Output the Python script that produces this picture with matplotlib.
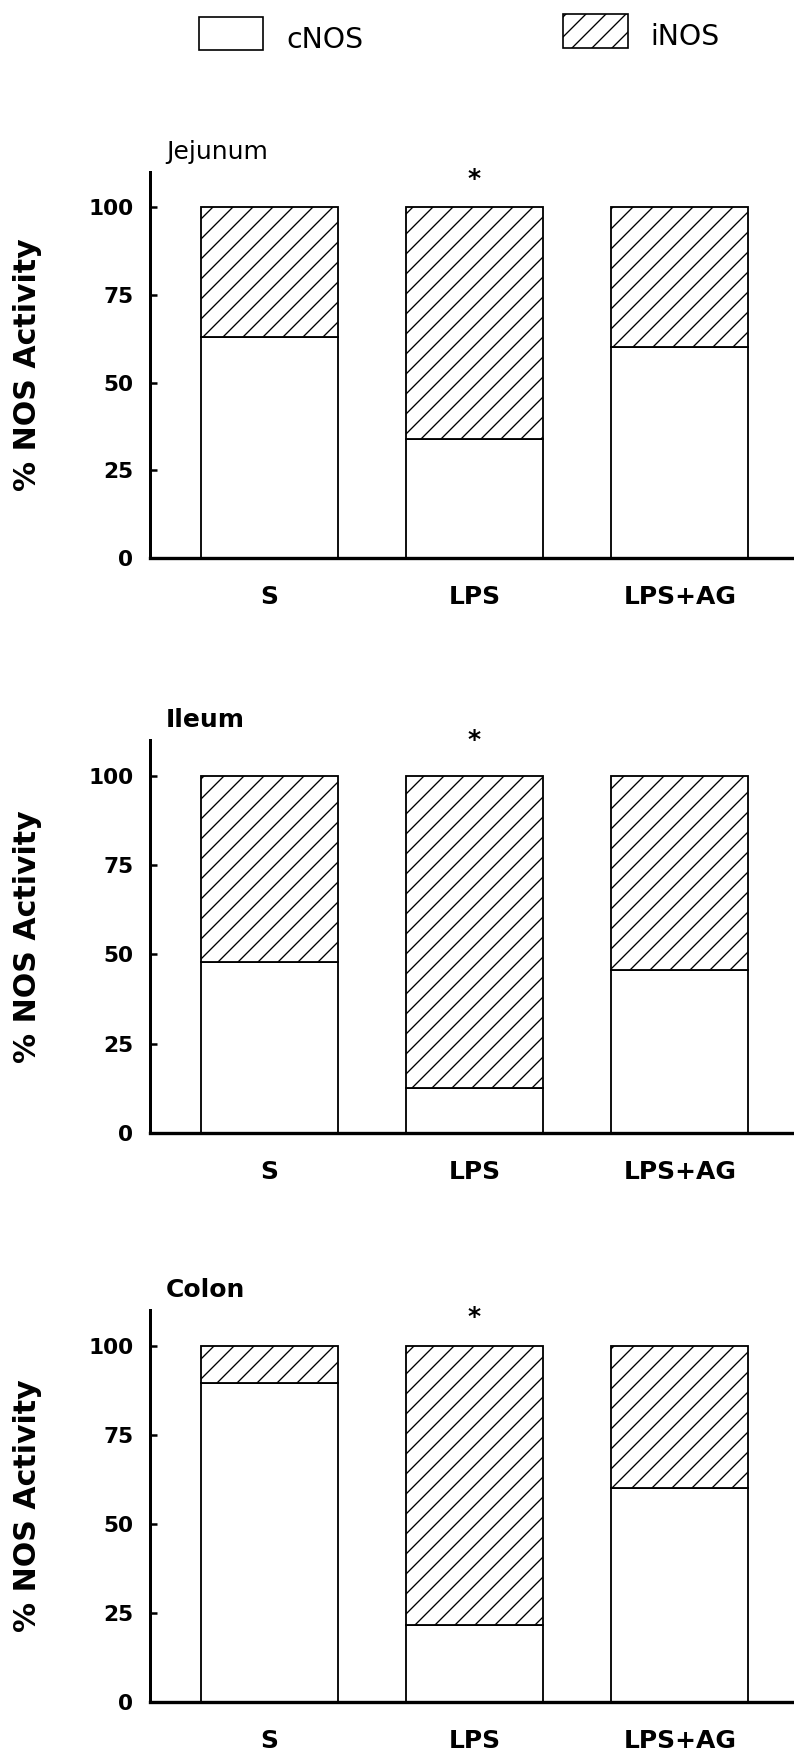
import numpy as np
import matplotlib.pyplot as plt
from matplotlib.patches import Rectangle

plt.rcParams['font.family'] = ['DejaVu Sans']
plt.rcParams['hatch.linewidth'] = 0.8

# NOS activity split (% of total) per treatment group
groups = ['S', 'LPS', 'LPS+AG']
regions = ['Jejunum', 'Ileum', 'Colon']
title_weights = ['normal', 'bold', 'bold']
cnos_jejunum = [63, 34, 60]
inos_jejunum = [37, 66, 40]
cnos_ileum = [48, 12.5, 45.5]
inos_ileum = [52, 87.5, 54.5]
cnos_colon = [89.5, 21.5, 60]
inos_colon = [10.5, 78.5, 40]
# significance marks above the LPS bar
star_group = 'LPS'
star_level = [108, 110, 108]

cnos_all = [cnos_jejunum, cnos_ileum, cnos_colon]
inos_all = [inos_jejunum, inos_ileum, inos_colon]

W, H, DPI = 794, 1758, 120
fig = plt.figure(figsize=(W / DPI, H / DPI), dpi=DPI)

# axes rectangles in figure fractions: left, bottom, width, height
ax_rects = [
    [0.189, 0.6826, 0.811, 0.2196],
    [0.189, 0.3555, 0.811, 0.2236],
    [0.189, 0.0319, 0.811, 0.2230],
]

x = np.arange(len(groups))
width = 0.667

for rect, name, tw, cnos, inos, star_y in zip(ax_rects, regions, title_weights,
                                              cnos_all, inos_all, star_level):
    ax = fig.add_axes(rect)
    ax.bar(x, cnos, width, color='white', edgecolor='black', linewidth=1.1)
    ax.bar(x, inos, width, bottom=cnos, color='white', edgecolor='black',
           linewidth=1.1, hatch='//')
    ax.set_xlim(-0.579, 2.555)
    ax.set_ylim(0, 110)
    ax.set_yticks([0, 25, 50, 75, 100])
    ax.set_xticks(x)
    ax.set_xticklabels(groups, fontsize=15, fontweight='bold')
    ax.tick_params(axis='x', length=0, pad=16)
    ax.tick_params(axis='y', direction='in', length=4, width=1.5, pad=10,
                   labelsize=13)
    for lbl in ax.get_yticklabels():
        lbl.set_fontweight('bold')
    for side in ['top', 'right']:
        ax.spines[side].set_visible(False)
    ax.spines['left'].set_linewidth(1.8)
    ax.spines['bottom'].set_linewidth(2.0)
    ax.set_ylabel('% NOS Activity', fontsize=18, fontweight='bold')
    ax.yaxis.label.set_va('center')
    ax.yaxis.set_label_coords(-0.191, 0.5)
    ax.annotate(name, xy=(0, 1), xycoords='axes fraction', xytext=(16, 20),
                textcoords='offset pixels', fontsize=15, fontweight=tw,
                va='center', ha='left')
    ax.text(groups.index(star_group), star_y, '*', fontsize=15,
            fontweight='bold', ha='center', va='center')

# legend drawn in pixel space across the top
lg = fig.add_axes([0, 0, 1, 1], facecolor='none')
lg.set_xlim(0, W)
lg.set_ylim(H, 0)
lg.axis('off')
lg.add_patch(Rectangle((199, 17), 64, 33, facecolor='white', edgecolor='black',
                       linewidth=1.0))
lg.add_patch(Rectangle((563, 14), 65, 34, facecolor='white', edgecolor='black',
                       linewidth=1.0, hatch='//'))
lg.text(286, 40, 'cNOS', fontsize=17, ha='left', va='center')
lg.text(650, 37, 'iNOS', fontsize=17, ha='left', va='center')

fig.savefig('out.png', dpi=DPI)
